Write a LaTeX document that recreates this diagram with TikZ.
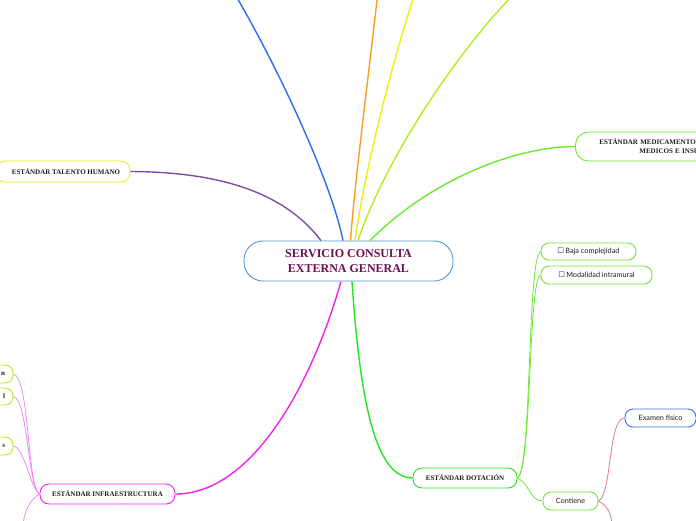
\documentclass[tikz,border=0pt]{standalone}
\usepackage{fontspec}
\setmainfont{Liberation Serif}
\newfontfamily\lbl{Lato}
\newfontfamily\sym{DejaVu Sans}
\usetikzlibrary{calc}
\definecolor{cblue}{HTML}{4A9AD8}
\definecolor{plum}{HTML}{6A1050}
\definecolor{purp}{HTML}{7B4FA8}
\definecolor{bblue}{HTML}{2D6CF0}
\definecolor{orng}{HTML}{F5A020}
\definecolor{yell}{HTML}{F2EC10}
\definecolor{ygrn}{HTML}{B4EC20}
\definecolor{lgrn}{HTML}{6CE830}
\definecolor{bgrn}{HTML}{22E622}
\definecolor{mag}{HTML}{EE22EE}
\definecolor{lmag}{HTML}{F088F0}
\definecolor{pinkl}{HTML}{E07896}
\definecolor{ebl}{HTML}{3070F0}
\definecolor{txt}{HTML}{1E1E1E}
\begin{document}
\begin{tikzpicture}[x=1pt,y=-1pt,
  box/.style={draw, fill=white, line width=0.9pt, inner sep=0pt, align=center, text=txt},
  headbox/.style={box, rounded corners=9pt, font=\bfseries\fontsize{7}{9}\selectfont},
  subbox/.style={box, rounded corners=8pt, font=\lbl\fontsize{7.3}{9}\selectfont},
  branch/.style={line width=1.4pt},
  twig/.style={line width=0.8pt}]
\useasboundingbox (0,0) rectangle (696,520);
\clip (0,0) rectangle (696,520);

% nodes
\node[box, draw=cblue, rounded corners=19pt, minimum width=209pt, minimum height=40pt,
  font=\bfseries\fontsize{12}{14.5}\selectfont, text=plum] (cen) at (348.5,261)
  {SERVICIO CONSULTA\\EXTERNA GENERAL};
\node[headbox, draw=yell, minimum width=134pt, minimum height=21pt] (tal) at (63,171.5)
  {\hspace*{6pt}ESTÁNDAR TALENTO HUMANO};
\node[headbox, draw=lgrn, rounded corners=13pt, minimum width=220pt, minimum height=29pt,
  anchor=west, text width=200pt, align=left] (med) at (575,146.5)
  {\hspace*{14pt}ESTÁNDAR MEDICAMENTOS, DISPOSITIVOS\\\hspace*{54pt}MEDICOS E INSUMOS};
\node[headbox, draw=bgrn, minimum width=104pt, minimum height=20pt] (dot) at (465,478)
  {ESTÁNDAR DOTACIÓN};
\node[headbox, draw=mag, minimum width=135pt, minimum height=20pt] (inf) at (107.5,494)
  {ESTÁNDAR INFRAESTRUCTURA};
\node[subbox, draw=lgrn, minimum width=95pt, minimum height=17pt] (baja) at (588.5,251.5)
  {{\sym\fontsize{7.5}{9}\selectfont ☐}\,Baja complejidad};
\node[subbox, draw=lgrn, minimum width=111pt, minimum height=18pt] (moda) at (596.5,275)
  {{\sym\fontsize{7.5}{9}\selectfont ☐}\,Modalidad intramural};
\node[subbox, draw=lgrn, minimum width=55pt, minimum height=18pt] (cont) at (570.5,501)
  {Contiene};
\node[subbox, draw=ebl, minimum width=71pt, minimum height=18pt] (exam) at (660.5,418)
  {Examen físico};
\node[headbox, draw=ygrn, rounded corners=8pt, minimum width=60pt, minimum height=18pt,
  text width=44pt, align=right] (l1) at (-17,374) {n};
\node[headbox, draw=ygrn, rounded corners=8pt, minimum width=60pt, minimum height=17pt,
  text width=44pt, align=right] (l2) at (-17,396.5) {l};
\node[headbox, draw=ygrn, rounded corners=8pt, minimum width=60pt, minimum height=18pt,
  text width=44pt, align=right] (l3) at (-17,446) {s};

% free ends off the picture
\coordinate (tb) at (236,-4);
\coordinate (to) at (377.5,-4);
\coordinate (ty) at (414,-4);
\coordinate (tg) at (512,-4);
\coordinate (bi) at (23,524);
\coordinate (bc) at (612,524);

% main branches
\draw[branch, purp] (tal.east) .. controls (235,172) and (290,200) .. ([xshift=-27.5pt]cen.north);
\draw[branch, bblue] (tb) .. controls (282,75) and (332,185) .. ([xshift=-5.5pt]cen.north);
\draw[branch, orng] (to) .. controls (368,80) and (355,180) .. ([xshift=2pt]cen.north);
\draw[branch, yell] (ty) .. controls (390,70) and (365,170) .. ([xshift=6.5pt]cen.north);
\draw[branch, ygrn] (tg) .. controls (455,55) and (385,160) .. ([xshift=9.5pt]cen.north);
\draw[branch, lgrn] ([xshift=21.5pt]cen.north) .. controls (430,180) and (515,146.5) .. (med.west);
\draw[branch, mag] ([xshift=-7.5pt]cen.south) .. controls (310,390) and (250,494) .. (inf.east);
\draw[branch, bgrn] ([xshift=3.5pt]cen.south) .. controls (360,400) and (375,478) .. (dot.west);

% twigs
\draw[twig, lgrn] (dot.east) .. controls (532,470) and (527,258) .. (baja.west);
\draw[twig, lgrn] (dot.east) .. controls (532,470) and (528,280) .. (moda.west);
\draw[twig, lgrn] (dot.east) .. controls (530,484) and (530,501) .. (cont.west);
\draw[twig, pinkl] (cont.east) .. controls (612,495) and (608,418) .. (exam.west);
\draw[twig, pinkl] (cont.east) .. controls (608,506) and (611,514) .. (bc);
\draw[twig, lmag] (inf.west) .. controls (27,488) and (30,378) .. (l1.east);
\draw[twig, lmag] (inf.west) .. controls (28,488) and (28,400) .. (l2.east);
\draw[twig, lmag] (inf.west) .. controls (30,488) and (25,448) .. (l3.east);
\draw[twig, lmag] (inf.west) .. controls (30,500) and (25,510) .. (bi);
\end{tikzpicture}
\end{document}
